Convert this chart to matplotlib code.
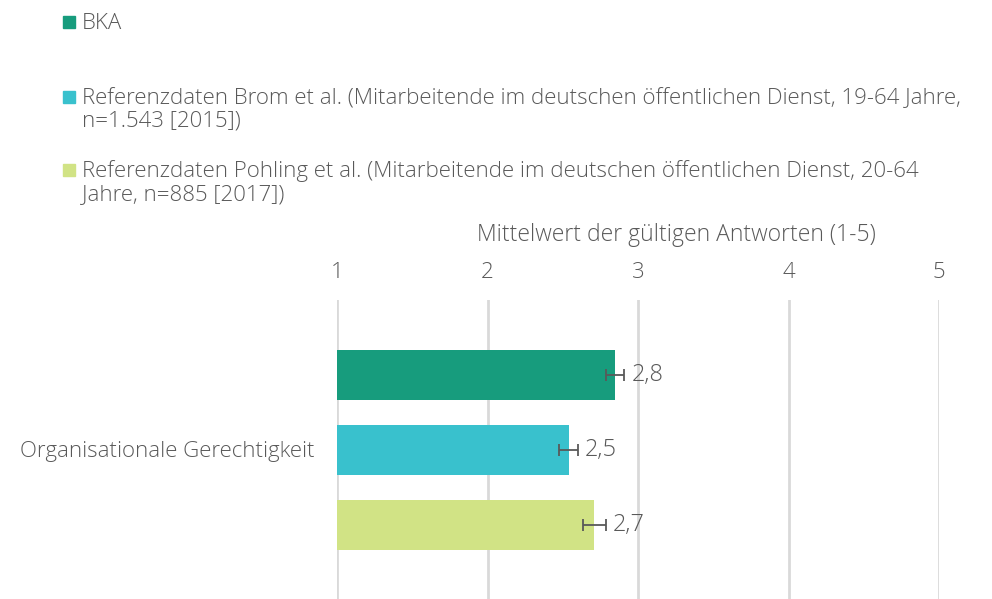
import matplotlib as mpl
mpl.use('Agg')
import matplotlib.pyplot as plt
from matplotlib.patches import Rectangle

plt.rcParams['font.family'] = ['Open Sans', 'DejaVu Sans']
plt.rcParams['font.weight'] = 'light'

kategorie = "Organisationale Gerechtigkeit"
serien = ["BKA",
          "Referenzdaten Brom et al. (Mitarbeitende im deutschen öffentlichen Dienst, 19-64 Jahre,\nn=1.543 [2015])",
          "Referenzdaten Pohling et al. (Mitarbeitende im deutschen öffentlichen Dienst, 20-64\nJahre, n=885 [2017])"]
werte = [2.85, 2.54, 2.71]
fehler = [0.06, 0.063, 0.075]
wert_labels = ["2,8", "2,5", "2,7"]
farben = ["#179c7d", "#39c1cd", "#d1e385"]
grau = "#595959"

W, H = 992, 599
fig = plt.figure(figsize=(W / 100, H / 100), dpi=100)

# Achse in Pixeln: x 337..939, y 300..600
ax = fig.add_axes([337 / W, (H - 600) / H, (939 - 337) / W, 300 / H])
ax.set_xlim(1, 5)
ax.set_ylim(3.0, -1.0)

for i in range(len(werte)):
    ax.barh(i, werte[i] - 1, left=1, height=0.667, color=farben[i], zorder=2)
    ax.errorbar(werte[i], i, xerr=fehler[i], fmt='none', ecolor=grau,
                elinewidth=1.3, capsize=4.5, capthick=1.3, zorder=3)
    ax.annotate(wert_labels[i], (werte[i] + fehler[i], i), xytext=(5, 0),
                textcoords='offset points', va='center', ha='left',
                fontsize=17, color=grau)

ax.set_xticks([1, 2, 3, 4, 5])
ax.grid(axis='x', color='#d9d9d9', linewidth=2, zorder=0)
ax.set_axisbelow(True)
ax.xaxis.tick_top()
ax.tick_params(axis='x', length=0, labelsize=16, labelcolor=grau, pad=12)
ax.set_yticks([])
for s in ax.spines.values():
    s.set_visible(False)

fig.text(315 / W, 1 - 451 / H, kategorie, ha='right', va='center', fontsize=16, color=grau)
fig.text(676 / W, 1 - 235 / H, "Mittelwert der gültigen Antworten (1-5)", ha='center',
         va='center', fontsize=16.5, color=grau)

# Legende (Grundlinien je Zeile in Pixeln)
leg_y = [22, 97, 170]
for i in range(len(serien)):
    fig.patches.append(Rectangle((63 / W, 1 - (leg_y[i] + 6) / H), 12 / W, 12 / H,
                                 transform=fig.transFigure, color=farben[i]))
    for k, zeile in enumerate(serien[i].split('\n')):
        fig.text(82 / W, 1 - (leg_y[i] + 7 + 23 * k) / H, zeile, ha='left',
                 va='baseline', fontsize=16, color=grau)

fig.savefig('out.png', dpi=100)
